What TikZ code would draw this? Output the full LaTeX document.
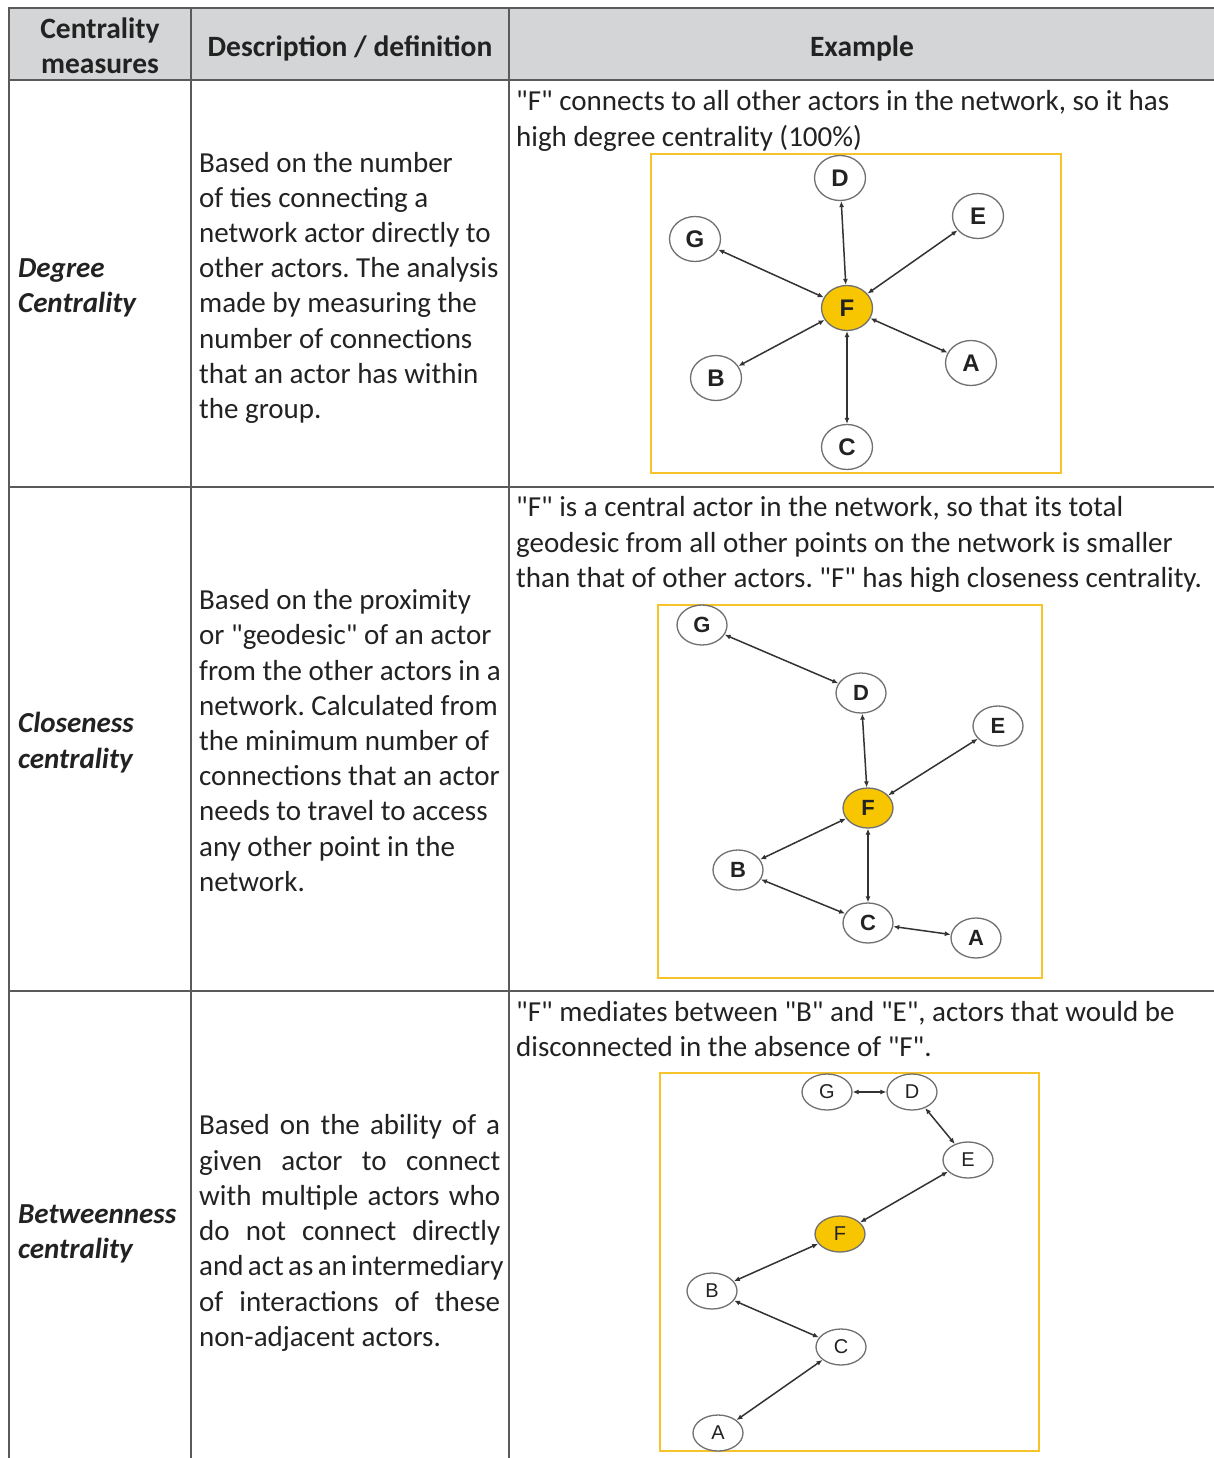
\documentclass[tikz,border=0pt]{standalone}
\usepackage{fontspec}
\setmainfont{Carlito}
\newfontfamily\arialf{Liberation Sans}
\usetikzlibrary{shapes.geometric,arrows.meta}
\definecolor{hdr}{HTML}{D4D5D7}
\definecolor{rulec}{HTML}{5A5A5A}
\definecolor{gold}{HTML}{F7C600}
\definecolor{boxy}{HTML}{F6C42A}
\definecolor{txt}{HTML}{222222}
\definecolor{edgec}{HTML}{333333}
\definecolor{ringc}{HTML}{707070}
\newcommand{\qq}{\textquotedbl}
\frenchspacing
\begin{document}
\begin{tikzpicture}[x=1pt,y=-1pt,
  body/.style={anchor=mid west, inner sep=0, yshift=-7pt, font=\fontsize{29}{35}\selectfont, text=txt},
  hdrtext/.style={anchor=mid, inner sep=0, yshift=-7pt, font=\bfseries\fontsize{29.5}{35}\selectfont, text=txt},
  rowlabel/.style={anchor=mid west, inner sep=0, yshift=-7pt, font=\bfseries\itshape\fontsize{29}{35}\selectfont, text=txt},
  tabline/.style={draw=rulec, line width=1.5pt},
  framebox/.style={draw=boxy, line width=1.6pt},
  actor/.style={ellipse, draw=ringc, line width=1.3pt, fill=white, inner sep=0,
    minimum width=51pt, minimum height=45pt, text=txt, font=\arialf\bfseries\fontsize{24}{24}\selectfont},
  actorb/.style={actor, minimum width=50pt, minimum height=40pt, font=\arialf\bfseries\fontsize{22}{22}\selectfont},
  actorc/.style={actor, minimum width=50pt, minimum height=36pt, font=\arialf\fontsize{20}{20}\selectfont},
  hub/.style={fill=gold},
  link/.style={{Latex[length=6pt,width=5pt]}-{Latex[length=6pt,width=5pt]}, line width=1.5pt, draw=edgec}
]
\useasboundingbox (0,0) rectangle (1214,1458);
\fill[white] (0,0) rectangle (1214,1458);
% header
\fill[hdr] (9,8) rectangle (1214,80);
\draw[tabline] (1214,8) -- (9,8) -- (9,1458);
\draw[tabline] (9,80) -- (1214,80);
\draw[tabline] (191,8) -- (191,1458);
\draw[tabline] (509,8) -- (509,1458);
\draw[tabline] (9,487) -- (1214,487);
\draw[tabline] (9,991) -- (1214,991);

\node[hdrtext] (h1a) at (100,29) {Centrality};
\node[hdrtext] (h1b) at (100,64) {measures};
\node[hdrtext] (h2) at (350,47) {Description / definition};
\node[hdrtext] (h3) at (862,47) {Example};

% row labels
\node[rowlabel] (r1a) at (18,268) {Degree};
\node[rowlabel] (r1b) at (18,303) {Centrality};
\node[rowlabel] (r2a) at (18,723) {Closeness};
\node[rowlabel] (r2b) at (18,759) {centrality};
\node[rowlabel] (r3a) at (18,1214) {Betweenness};
\node[rowlabel] (r3b) at (18,1249) {centrality};

% descriptions row 1
\node[body] (d11) at (199,163) {Based on the number};
\node[body] (d12) at (199,198) {of ties connecting a};
\node[body] (d13) at (199,233) {network actor directly to};
\node[body] (d14) at (199,268) {other actors. The analysis};
\node[body] (d15) at (199,303) {made by measuring the};
\node[body] (d16) at (199,339) {number of connections};
\node[body] (d17) at (199,374) {that an actor has within};
\node[body] (d18) at (199,409) {the group.};
% descriptions row 2
\node[body] (d21) at (199,600) {Based on the proximity};
\node[body] (d22) at (199,635) {or \qq geodesic\qq{} of an actor};
\node[body] (d23) at (199,671) {from the other actors in a};
\node[body] (d24) at (199,706) {network. Calculated from};
\node[body] (d25) at (199,741) {the minimum number of};
\node[body] (d26) at (199,776) {connections that an actor};
\node[body] (d27) at (199,811) {needs to travel to access};
\node[body] (d28) at (199,847) {any other point in the};
\node[body] (d29) at (199,882) {network.};
% descriptions row 3 (justified)
\node[body] (d31) at (199,1125) {\makebox[301pt][s]{Based on the ability of a}};
\node[body] (d32) at (199,1161) {\makebox[301pt][s]{given actor to connect}};
\node[body] (d33) at (199,1196) {\makebox[301pt][s]{with multiple actors who}};
\node[body] (d34) at (199,1231) {\makebox[301pt][s]{do not connect directly}};
\node[body] (d35) at (199,1266) {\makebox[301pt][s]{and act as an intermediary}};
\node[body] (d36) at (199,1302) {\makebox[301pt][s]{of interactions of these}};
\node[body] (d37) at (199,1337) {non-adjacent actors.};

% examples text
\node[body] (e11) at (516,101) {\qq F\qq{} connects to all other actors in the network, so it has};
\node[body] (e12) at (516,137) {high degree centrality (100\%)};
\node[body] (e21) at (516,507) {\qq F\qq{} is a central actor in the network, so that its total};
\node[body] (e22) at (516,543) {geodesic from all other points on the network is smaller};
\node[body] (e23) at (516,578) {than that of other actors. \qq F\qq{} has high closeness centrality.};
\node[body] (e31) at (516,1012) {\qq F\qq{} mediates between \qq B\qq{} and \qq E\qq, actors that would be};
\node[body] (e32) at (516,1047) {disconnected in the absence of \qq F\qq.};

% graph 1
\draw[framebox] (651,154) rectangle (1061,473);
\node[actor] (gD) at (840,178) {D};
\node[actor] (gG) at (695,239) {G};
\node[actor] (gE) at (978,216) {E};
\node[actor,hub] (gF) at (847,308) {F};
\node[actor] (gB) at (716,378) {B};
\node[actor] (gA) at (971,363) {A};
\node[actor] (gC) at (847,447) {C};
\foreach \n in {gD,gG,gE,gB,gA,gC} \draw[link] (gF) -- (\n);

% graph 2
\draw[framebox] (658,605) rectangle (1042,978);
\node[actorb] (kG) at (702,625) {G};
\node[actorb] (kD) at (861,693) {D};
\node[actorb] (kE) at (998,726) {E};
\node[actorb,hub] (kF) at (868,808) {F};
\node[actorb] (kB) at (738,870) {B};
\node[actorb] (kC) at (868,923) {C};
\node[actorb] (kA) at (976,938) {A};
\draw[link] (kG) -- (kD);
\draw[link] (kD) -- (kF);
\draw[link] (kE) -- (kF);
\draw[link] (kB) -- (kF);
\draw[link] (kC) -- (kF);
\draw[link] (kB) -- (kC);
\draw[link] (kC) -- (kA);

% graph 3
\draw[framebox] (660,1073) rectangle (1039,1451);
\node[actorc] (bG) at (827,1092) {G};
\node[actorc] (bD) at (912,1092) {D};
\node[actorc] (bE) at (968,1160) {E};
\node[actorc,hub] (bF) at (840,1234) {F};
\node[actorc] (bB) at (712,1291) {B};
\node[actorc] (bC) at (841,1347) {C};
\node[actorc] (bA) at (718,1433) {A};
\draw[link] (bG) -- (bD);
\draw[link] (bD) -- (bE);
\draw[link] (bE) -- (bF);
\draw[link] (bF) -- (bB);
\draw[link] (bB) -- (bC);
\draw[link] (bC) -- (bA);
\end{tikzpicture}
\end{document}
